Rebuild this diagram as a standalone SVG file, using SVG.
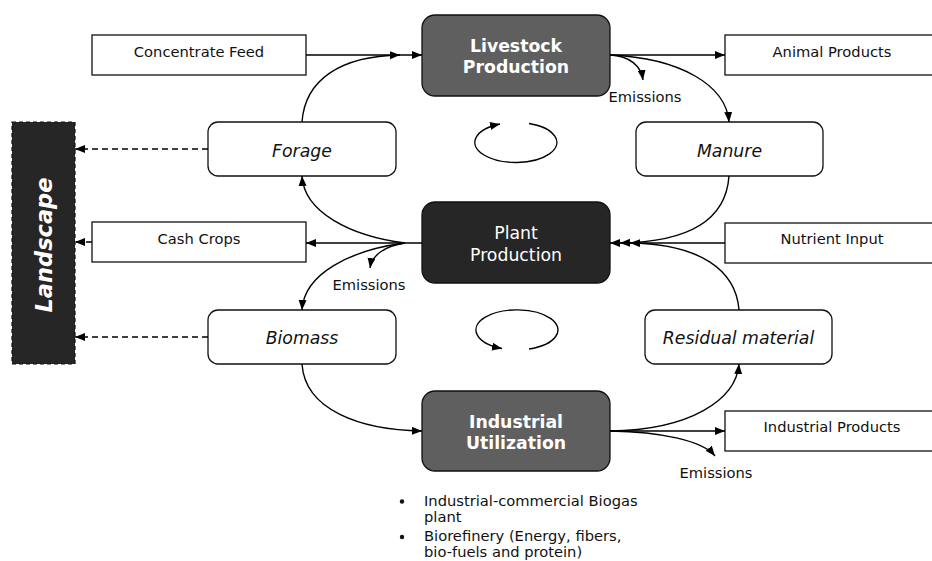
<svg xmlns="http://www.w3.org/2000/svg" width="932" height="561" viewBox="0 0 932 561">
  <style>
    text { font-family: "DejaVu Sans", Verdana, sans-serif; }
    .lbl { font-size: 14.7px; fill: #111; text-anchor: middle; }
    .item { font-size: 17.3px; font-style: italic; fill: #111; text-anchor: middle; }
    .core { font-size: 17.3px; fill: #fff; text-anchor: middle; }
    .bold { font-weight: bold; }
    .box { fill: #fff; stroke: #111; stroke-width: 1.3; }
    .rbox { fill: #fff; stroke: #111; stroke-width: 1.3; }
    .grey { fill: #5f5f5f; stroke: #111; stroke-width: 1.3; }
    .dark { fill: #262626; stroke: #111; stroke-width: 1.3; }
    .flow { fill: none; stroke: #000; stroke-width: 1.4; }
    .arr { marker-end: url(#head); }
    .dash { stroke-dasharray: 6 4; }
    .bul { font-size: 14.7px; fill: #111; }
  </style>
  <defs>
    <marker id="head" markerUnits="userSpaceOnUse" markerWidth="11" markerHeight="9" refX="10" refY="4" orient="auto">
      <path d="M0,0 L10,4 L0,8 z" fill="#000"/>
    </marker>
  </defs>

  <!-- landscape side bar -->
  <g id="landscape">
    <rect x="12" y="122" width="63" height="242" fill="#262626" stroke="#111" stroke-width="1.2" stroke-dasharray="4 3"/>
    <text transform="translate(52,245) rotate(-90)" font-size="22.5" font-weight="bold" font-style="italic" fill="#fff" text-anchor="middle">Landscape</text>
  </g>

  <!-- external inputs / outputs -->
  <g id="concentrate-feed">
    <rect class="box" x="92" y="35" width="214" height="40"/>
    <text class="lbl" x="199" y="57">Concentrate Feed</text>
  </g>
  <g id="animal-products">
    <rect class="box" x="725" y="35" width="214" height="40"/>
    <text class="lbl" x="832" y="57">Animal Products</text>
  </g>
  <g id="cash-crops">
    <rect class="box" x="92" y="222" width="214" height="40"/>
    <text class="lbl" x="199" y="243.5">Cash Crops</text>
  </g>
  <g id="nutrient-input">
    <rect class="box" x="725" y="223" width="214" height="40"/>
    <text class="lbl" x="832" y="244">Nutrient Input</text>
  </g>
  <g id="industrial-products">
    <rect class="box" x="725" y="411" width="214" height="40"/>
    <text class="lbl" x="832" y="432">Industrial Products</text>
  </g>

  <!-- intermediate flows -->
  <g id="forage">
    <rect class="rbox" x="208" y="122" width="188" height="54" rx="10"/>
    <text class="item" x="302" y="157">Forage</text>
  </g>
  <g id="manure">
    <rect class="rbox" x="636" y="122" width="187" height="54" rx="10"/>
    <text class="item" x="729.5" y="157">Manure</text>
  </g>
  <g id="biomass">
    <rect class="rbox" x="208" y="310" width="188" height="54" rx="10"/>
    <text class="item" x="302" y="344">Biomass</text>
  </g>
  <g id="residual-material">
    <rect class="rbox" x="645" y="310" width="187" height="54" rx="10"/>
    <text class="item" x="738.5" y="344">Residual material</text>
  </g>

  <!-- production stages -->
  <g id="livestock-production">
    <rect class="grey" x="422" y="15" width="188" height="81" rx="13"/>
    <text class="core bold" x="516" y="51.5">Livestock</text>
    <text class="core bold" x="516" y="72.5">Production</text>
  </g>
  <g id="plant-production">
    <rect class="dark" x="422" y="202" width="188" height="81" rx="13"/>
    <text class="core" x="516" y="239">Plant</text>
    <text class="core" x="516" y="261">Production</text>
  </g>
  <g id="industrial-utilization">
    <rect class="grey" x="422" y="391" width="188" height="80" rx="13"/>
    <text class="core bold" x="516" y="427.5">Industrial</text>
    <text class="core bold" x="516" y="449">Utilization</text>
  </g>

  <!-- emission labels -->
  <g id="emissions-livestock"><text class="lbl" x="645" y="102">Emissions</text></g>
  <g id="emissions-plant"><text class="lbl" x="369" y="290">Emissions</text></g>
  <g id="emissions-industry"><text class="lbl" x="716" y="478">Emissions</text></g>

  <!-- industrial utilization options -->
  <g id="utilization-options">
    <circle cx="402" cy="501.5" r="2.2" fill="#111"/>
    <text class="bul" x="424" y="505.5">Industrial-commercial Biogas</text>
    <text class="bul" x="424" y="522">plant</text>
    <circle cx="402" cy="537" r="2.2" fill="#111"/>
    <text class="bul" x="424" y="540.5">Biorefinery (Energy, fibers,</text>
    <text class="bul" x="424" y="557">bio-fuels and protein)</text>
  </g>

  <!-- connectors -->
  <g id="connectors">
    <!-- livestock level -->
    <path class="flow arr" d="M306,55 H422"/>
    <path class="flow arr" d="M302,122 C305,80 340,56 400,55"/>
    <path class="flow arr" d="M610,55 H725"/>
    <path class="flow arr" d="M610,55 C630,56 641,66 643,80"/>
    <path class="flow arr" d="M610,55 C680,58 726,85 729,122"/>

    <!-- plant level -->
    <path class="flow arr" d="M422,243 H306"/>
    <path class="flow arr" d="M405,243 C350,236 304,212 302,176"/>
    <path class="flow arr" d="M405,243 C385,246 372,255 370,268"/>
    <path class="flow arr" d="M405,243 C350,250 304,274 302,310"/>
    <path class="flow arr" d="M725,243 H610"/>
    <path class="flow arr" d="M729,176 C726,220 690,242 620,243"/>
    <path class="flow arr" d="M739,310 C736,270 700,244 630,243"/>

    <!-- industrial level -->
    <path class="flow arr" d="M302,364 C305,410 360,430 422,431"/>
    <path class="flow arr" d="M610,431 C690,430 736,400 739,364"/>
    <path class="flow arr" d="M610,431 H725"/>
    <path class="flow arr" d="M610,431 C660,432 702,440 715,456"/>

    <!-- to landscape -->
    <path class="flow arr dash" d="M208,149 H75"/>
    <path class="flow arr dash" d="M92,242 H75"/>
    <path class="flow arr dash" d="M208,337 H75"/>

    <!-- cycle symbols -->
    <path class="flow arr" d="M529,123.5 A41,20 0 1 1 500,124"/>
    <path class="flow arr" d="M529,349 A41,20 0 1 0 502,348.5"/>
  </g>
</svg>
